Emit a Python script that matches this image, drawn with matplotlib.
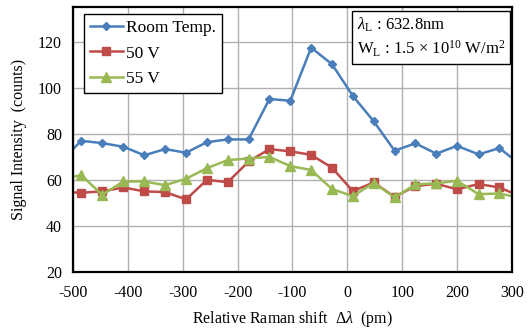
import matplotlib
matplotlib.use("Agg")
import matplotlib.pyplot as plt

plt.rcParams['font.family'] = ['Liberation Serif', 'DejaVu Serif']
plt.rcParams['mathtext.fontset'] = 'custom'
plt.rcParams['mathtext.rm'] = 'Liberation Serif'
plt.rcParams['mathtext.it'] = 'Liberation Serif:italic'
plt.rcParams['axes.unicode_minus'] = False

# Raman shift (pm)
shift = [-523, -485, -447, -408, -370, -332, -294, -256, -218, -180, -142, -104,
         -66, -28, 10, 48, 86, 124, 162, 200, 239, 277, 315]

# signal (counts)
room_temp = [68, 77.2, 76.2, 74.6, 70.9, 73.6, 72.0, 76.6, 77.8, 77.8, 95.4, 94.6,
             117.7, 110.5, 96.7, 85.7, 72.9, 76.1, 71.6, 75.0, 71.3, 74.0, 67]
v50 = [55, 54.6, 55.2, 56.9, 55.2, 54.9, 51.7, 60.2, 59.2, 68.2, 73.6, 72.6,
       71.1, 65.5, 55.3, 59.1, 52.8, 57.5, 58.5, 56.1, 58.4, 56.9, 53.1]
v55 = [60.3, 62.3, 53.7, 59.5, 59.5, 57.9, 60.7, 65.3, 68.8, 69.5, 70.2, 66.2,
       64.5, 56.2, 53.1, 58.9, 52.6, 58.2, 58.7, 59.8, 54.0, 54.3, 52.3]

xticks = [-500, -400, -300, -200, -100, 0, 100, 200, 300]
yticks = [20, 40, 60, 80, 100, 120]

fig = plt.figure(figsize=(5.32, 3.31), dpi=100)
ax = fig.add_axes([0.1372, 0.1773, 0.8252, 0.8016])

ax.plot(shift, room_temp, color='#4a7ebb', lw=1.8, marker='D', ms=4.5, label='Room Temp.')
ax.plot(shift, v50, color='#be4b48', lw=1.8, marker='s', ms=6, label='50 V')
ax.plot(shift, v55, color='#98b954', lw=1.8, marker='^', ms=6.5, label='55 V')

ax.set_xlim(-500, 300)
ax.set_ylim(20, 135.4)
ax.set_xticks(xticks)
ax.set_yticks(yticks)
ax.grid(True, color='#b0b0b0', lw=1)
ax.set_axisbelow(True)
ax.tick_params(length=0, labelsize=11.5)
ax.tick_params(axis='x', pad=9)
ax.tick_params(axis='y', pad=8)
for s in ax.spines.values():
    s.set_linewidth(1.6)
    s.set_color('black')

ax.set_xlabel(r'Relative Raman shift  $\Delta\mathit{\lambda}$  (pm)', fontsize=11.5, labelpad=6)
ax.set_ylabel('Signal Intensity  (counts)', fontsize=11.5, labelpad=8)

leg = ax.legend(loc='upper left', bbox_to_anchor=(0.024, 0.975), fontsize=12.5,
                frameon=True, fancybox=False, edgecolor='black', framealpha=1,
                handlelength=1.9, handletextpad=0.2, labelspacing=0.55,
                borderpad=0.35, borderaxespad=0)
leg.get_frame().set_linewidth(1)

ax.text(0.984, 0.966,
        '$\\mathit{\\lambda}_{\\mathrm{L}}$ : 632.8nm\n'
        'W$_{\\mathrm{L}}$ : 1.5 × 10$^{10}$ W/m$^{2}$',
        transform=ax.transAxes, ha='right', va='top', fontsize=12,
        multialignment='left', linespacing=1.25,
        bbox=dict(boxstyle='square,pad=0.3', fc='white', ec='black', lw=1))

fig.savefig('out.png', dpi=100)
